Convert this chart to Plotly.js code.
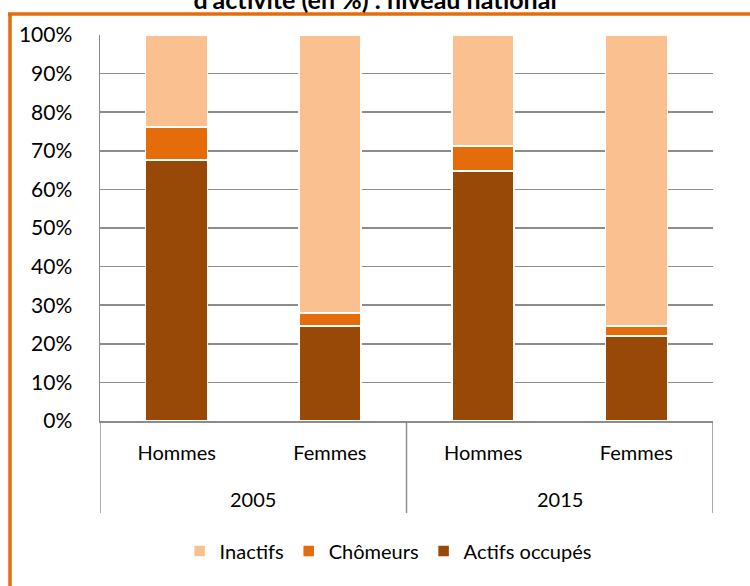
<!DOCTYPE html>
<html>
<head>
<meta charset="utf-8">
<script src="https://cdn.plot.ly/plotly-3.0.1.min.js"></script>
<style>html,body{margin:0;padding:0;background:#fff;}#chart{width:750px;height:586px;}</style>
</head>
<body>
<div id="chart"></div>
<script>
// Data
const years = ["2005", "2005", "2015", "2015"];
const sexes = ["Hommes", "Femmes", "Hommes", "Femmes"];
const actifsOccupes = [67.6, 24.6, 64.8, 22.0];
const chomeurs = [8.6, 3.4, 6.4, 2.6];
const inactifs = [23.8, 72.0, 28.8, 75.4];
const seriesNames = ["Inactifs", "Chômeurs", "Actifs occupés"];
const yearGroups = ["2005", "2015"];
const titleText = "d'activité (en %) : niveau national";

const colors = {inact: "#FAC090", chom: "#E46C0A", act: "#984807"};
const xKeys = years.map((y, i) => y + " " + sexes[i]);
const line = {color: "#ffffff", width: 1.5};

const traces = [
  {type: "bar", name: seriesNames[2], x: xKeys, y: actifsOccupes, marker: {color: colors.act, line: line}},
  {type: "bar", name: seriesNames[1], x: xKeys, y: chomeurs, marker: {color: colors.chom, line: line}},
  {type: "bar", name: seriesNames[0], x: xKeys, y: inactifs, marker: {color: colors.inact, line: line}}
];

// plot area: left 100, right 713, top 35, bottom 421
const L = 100, R = 713, T = 35, B = 421;
const W = R - L, H = B - T;
const px2x = p => (p - L) / W;
const py2y = p => (B - p) / H;
const grey = "#8c8c8c";

// year group labels and dividers from the category positions
const annotations = yearGroups.map(yr => {
  const idx = years.map((y, i) => y === yr ? i : -1).filter(i => i >= 0);
  const mid = (idx[0] + idx[idx.length - 1]) / 2;
  return {xref: "x", yref: "paper", x: mid, y: py2y(499), yanchor: "middle", showarrow: false,
          text: yr, font: {size: 20, color: "#000"}};
});
const dividerPos = [-0.5];
years.forEach((y, i) => { if (i < years.length - 1 && years[i + 1] !== y) dividerPos.push(i + 0.5); });
dividerPos.push(years.length - 0.5);
const shapes = dividerPos.map(p => ({type: "line", xref: "x", yref: "paper", x0: p, x1: p, y0: 0, y1: py2y(513),
  line: {color: grey, width: 1.5}}));
shapes.push(
  {type: "line", xref: "paper", yref: "paper", x0: px2x(10), x1: px2x(10), y0: py2y(14), y1: py2y(600),
   line: {color: "#E46C0A", width: 3.5}},
  {type: "line", xref: "paper", yref: "paper", x0: px2x(8), x1: px2x(760), y0: py2y(14), y1: py2y(14),
   line: {color: "#E46C0A", width: 3.5}}
);

const layout = {
  width: 750, height: 586,
  margin: {l: L, r: 750 - R, t: T, b: 586 - B, pad: 0},
  paper_bgcolor: "#ffffff", plot_bgcolor: "#ffffff",
  font: {family: "Lato, 'Open Sans', sans-serif", size: 20, color: "#000000"},
  barmode: "stack",
  bargap: 0.595,
  showlegend: true,
  legend: {orientation: "h", x: 0.47, xanchor: "center", y: py2y(551), yanchor: "middle",
           traceorder: "reversed", font: {size: 20}, itemwidth: 30},
  title: {text: "<b>" + titleText + "</b>", x: 0.5, xanchor: "center", y: 1, yref: "container", yanchor: "middle",
          font: {size: 25, color: "#000"}},
  xaxis: {
    type: "category",
    range: [-0.5, 3.5],
    tickvals: xKeys, ticktext: sexes,
    showgrid: false, zeroline: false,
    showline: true, linecolor: grey, linewidth: 1.5,
    ticks: "outside", ticklen: 13, tickcolor: "rgba(0,0,0,0)",
    tickfont: {size: 20}
  },
  yaxis: {
    range: [0, 100], dtick: 10, ticksuffix: "%",
    showgrid: true, gridcolor: grey, gridwidth: 1.5,
    showline: true, linecolor: grey, linewidth: 1.5,
    zeroline: false,
    ticks: "outside", ticklen: 22, tickcolor: "rgba(0,0,0,0)",
    tickfont: {size: 21}
  },
  annotations: annotations,
  shapes: shapes
};

Plotly.newPlot("chart", traces, layout, {displayModeBar: false, staticPlot: true});
</script>
</body>
</html>
